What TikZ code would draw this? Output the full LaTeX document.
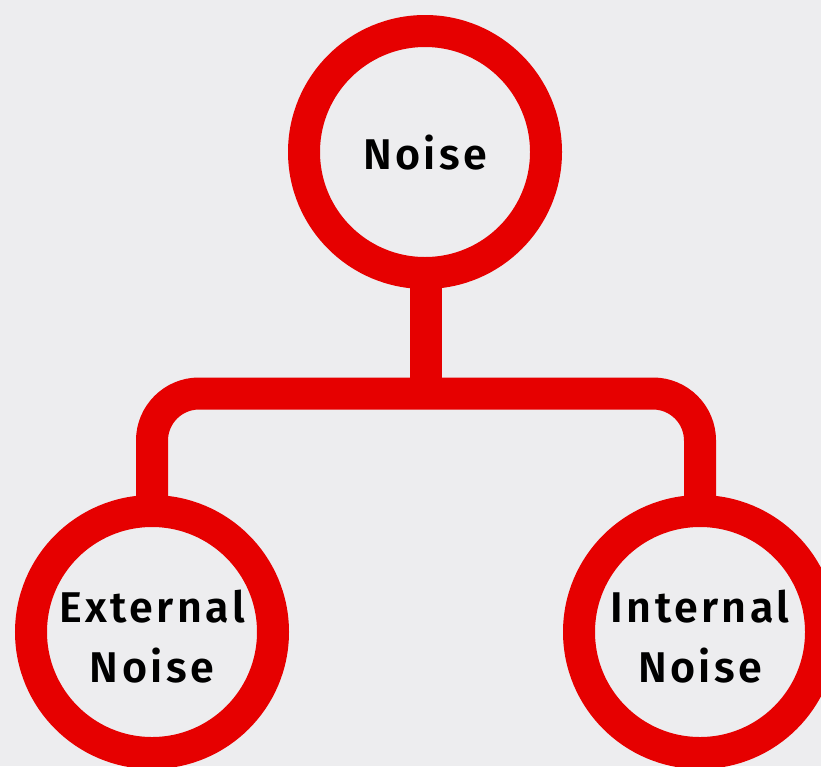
\documentclass[tikz,border=0pt]{standalone}
\usepackage{fontspec}
\setmainfont{Fira Sans}
\newfontfamily\labelfont[LetterSpace=8]{Fira Sans SemiBold}
\definecolor{bgcol}{RGB}{237,237,239}
\definecolor{ringred}{RGB}{230,0,0}
\begin{document}
\begin{tikzpicture}[x=1pt,y=-1pt,
  ring/.style={circle,draw=ringred,line width=32pt,fill=bgcol,
    minimum size=242pt,inner sep=0pt},
  caption/.style={align=center,inner sep=0pt,text=black,
    font=\labelfont\fontsize{43}{60}\selectfont},
  link/.style={draw=ringred,line width=32pt}]
  \fill[bgcol] (0,0) rectangle (821,766);
  \useasboundingbox (0,0) rectangle (821,766);
  % branch connectors, drawn first so the rings cover their ends
  \coordinate (hub) at (426,393.5);
  \coordinate (topend) at (426,200);
  \coordinate (leftend) at (152,560);
  \coordinate (rightend) at (700,560);
  \draw[link] (topend) -- (hub);
  \draw[link,rounded corners=47pt] (leftend) |- (hub) -| (rightend);
  % the three rings
  \node[ring] (noise) at (425,152) {};
  \node[ring] (ext) at (152,632) {};
  \node[ring] (int) at (700,632) {};
  % their captions
  \node[caption] (noisetext) at ([yshift=-1pt]noise.center) {Noise};
  \node[caption] (exttext) at ([yshift=-5pt]ext.center) {External\\Noise};
  \node[caption] (inttext) at ([yshift=-5pt]int.center) {Internal\\Noise};
\end{tikzpicture}
\end{document}
